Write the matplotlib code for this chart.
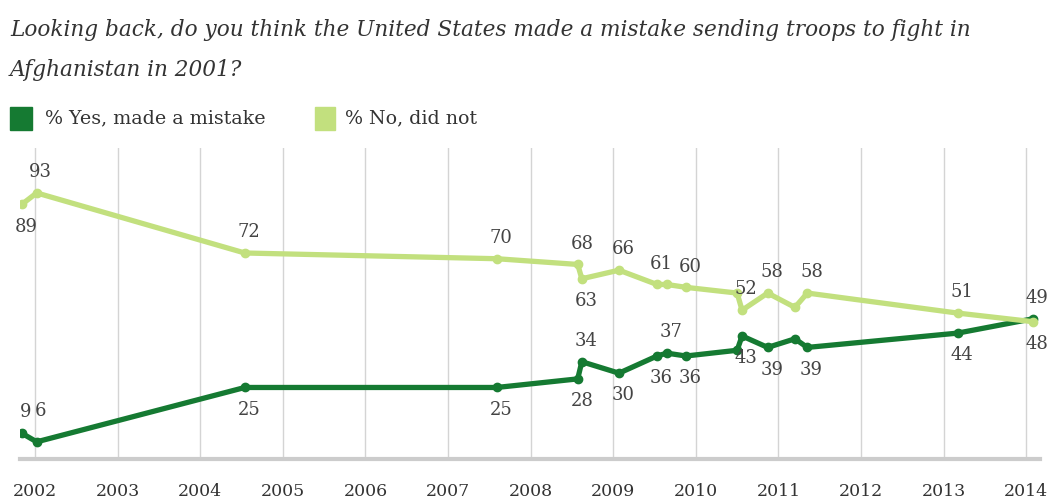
import matplotlib.pyplot as plt

# survey dates (decimal years)
dates = [2001.84, 2002.02, 2004.54, 2007.59, 2008.57, 2008.62, 2009.07, 2009.53,
         2009.65, 2009.88, 2010.50, 2010.56, 2010.87, 2011.20, 2011.35, 2013.17, 2014.08]
yes_mistake = [9, 6, 25, 25, 28, 34, 30, 36, 37, 36, 38, 43, 39, 42, 39, 44, 49]
no_not = [89, 93, 72, 70, 68, 63, 66, 61, 61, 60, 58, 52, 58, 53, 58, 51, 48]
years = list(range(2002, 2015))

# where each value label sits: 'a' above, 'b' below, '' none
yes_pos = ['a', 'a', 'b', 'b', 'b', 'a', 'b', 'b', 'a', 'b', '', 'b', 'b', '', 'b', 'b', 'a']
no_pos = ['b', 'a', 'a', 'a', 'a', 'b', 'a', 'a', '', 'a', '', 'a', 'a', '', 'a', 'a', 'b']

dark = '#157a32'
light = '#c2e07e'
serif = 'DejaVu Serif'

fig = plt.figure(figsize=(10.49, 5.04), dpi=100)
ax = fig.add_axes([20 / 1049, 45 / 504, 1020 / 1049, 311 / 504])

ax.plot(dates, yes_mistake, color=dark, lw=3.8, marker='o', ms=6, zorder=3)
ax.plot(dates, no_not, color=light, lw=3.8, marker='o', ms=6, zorder=4)


def label(x, v, p, i):
    dy = 15 if p == 'a' else -16
    if i == 1 and v == 6:
        dy = 22  # the Jan 2002 label sits level with the Nov 2001 one
    ax.annotate(str(v), (x, v), xytext=(3, dy), textcoords='offset points',
                ha='center', va='center', fontsize=13, family=serif,
                color='#444444', zorder=5)


for i, (x, v, p) in enumerate(zip(dates, yes_mistake, yes_pos)):
    if p:
        label(x, v, p, i)
for i, (x, v, p) in enumerate(zip(dates, no_not, no_pos)):
    if p:
        label(x, v, p, i)

ax.set_xlim(2001.818, 2014.167)
ax.set_ylim(0, 108.7)
ax.set_xticks(years)
ax.set_xticklabels([str(y) for y in years], family=serif, fontsize=12.5, color='#333333')
ax.set_yticks([])
ax.tick_params(axis='x', length=0, pad=17)
ax.grid(axis='x', color='#d4d4d4', lw=1)
for s in ['top', 'right', 'left']:
    ax.spines[s].set_visible(False)
ax.spines['bottom'].set_color('#cccccc')
ax.spines['bottom'].set_linewidth(3)

fig.text(10 / 1049, 1 - 30 / 504,
         'Looking back, do you think the United States made a mistake sending troops to fight in',
         family=serif, style='italic', fontsize=15.6, color='#333333', va='center')
fig.text(10 / 1049, 1 - 70 / 504, 'Afghanistan in 2001?',
         family=serif, style='italic', fontsize=15.6, color='#333333', va='center')

# legend
fig.patches.append(plt.Rectangle((10 / 1049, 1 - 130 / 504), 22 / 1049, 23 / 504,
                                 transform=fig.transFigure, color=dark))
fig.text(45 / 1049, 1 - 118 / 504, '% Yes, made a mistake', family=serif,
         fontsize=13.7, color='#333333', va='center')
fig.patches.append(plt.Rectangle((315 / 1049, 1 - 130 / 504), 20 / 1049, 23 / 504,
                                 transform=fig.transFigure, color=light))
fig.text(345 / 1049, 1 - 118 / 504, '% No, did not', family=serif,
         fontsize=13.7, color='#333333', va='center')

fig.savefig('out.png', dpi=100)
